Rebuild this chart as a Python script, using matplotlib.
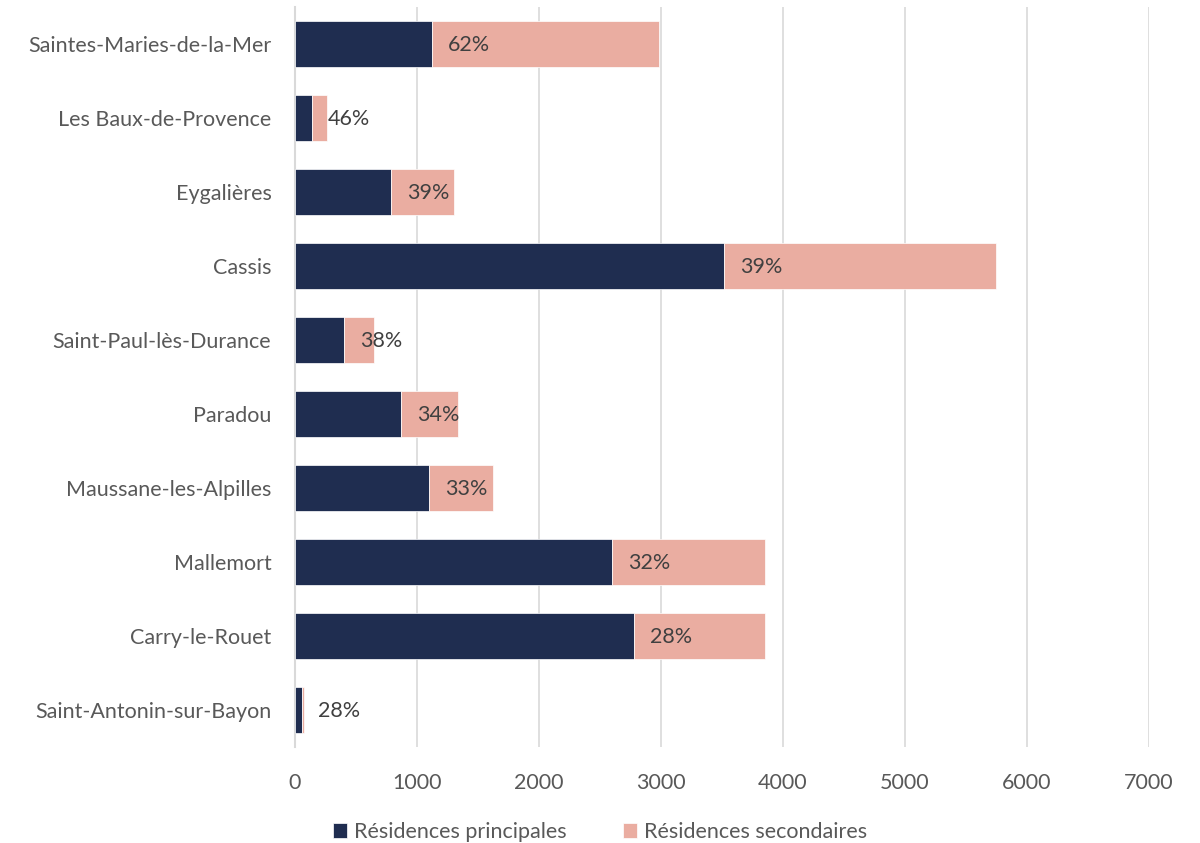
import numpy as np
import matplotlib.pyplot as plt

communes = ['Saintes-Maries-de-la-Mer', 'Les Baux-de-Provence', 'Eygalières', 'Cassis',
            'Saint-Paul-lès-Durance', 'Paradou', 'Maussane-les-Alpilles', 'Mallemort',
            'Carry-le-Rouet', 'Saint-Antonin-sur-Bayon']
principales = [1123, 140, 786, 3517, 403, 871, 1101, 2597, 2777, 55]
secondaires = [1860, 120, 521, 2229, 246, 468, 526, 1257, 1077, 21]
pct_labels = ['62%', '46%', '39%', '39%', '38%', '34%', '33%', '32%', '28%', '28%']
xticks = [0, 1000, 2000, 3000, 4000, 5000, 6000, 7000]

navy = '#1F2D50'
salmon = '#EAADA1'
grey_txt = '#595959'

plt.rcParams['font.family'] = ['Lato', 'DejaVu Sans']

fig = plt.figure(figsize=(12, 8.43), dpi=100)
ax = fig.add_axes([295/1200, 1 - 747/843, (1149 - 295)/1200, 740/843])

y = np.arange(len(communes))
ax.barh(y, principales, height=0.62, color=navy, edgecolor='white', linewidth=0.5,
        label='Résidences principales', zorder=3)
ax.barh(y, secondaires, left=principales, height=0.62, color=salmon, edgecolor='white',
        linewidth=0.5, label='Résidences secondaires', zorder=3)

# pourcentage de résidences secondaires, posé au début du segment rose
for yi, p, lab in zip(y, principales, pct_labels):
    ax.annotate(lab, (p, yi), xytext=(11.5, -1), textcoords='offset points',
                ha='left', va='center', fontsize=15.5, color='#404040', zorder=4)

ax.set_xlim(0, 7000)
ax.set_ylim(len(communes) - 0.5, -0.5)
ax.set_xticks(xticks)
ax.set_xticklabels([str(t) for t in xticks])
ax.set_yticks(y)
ax.set_yticklabels(communes)
ax.tick_params(axis='both', length=0, labelsize=15.5, colors=grey_txt)
ax.tick_params(axis='x', pad=19)
ax.tick_params(axis='y', pad=17)

ax.grid(axis='x', color='#D9D9D9', linewidth=1.2, zorder=0)
for s in ['top', 'right', 'bottom']:
    ax.spines[s].set_visible(False)
ax.spines['left'].set_color('#D9D9D9')
ax.spines['left'].set_linewidth(1.5)

fig.legend(loc='center', bbox_to_anchor=(0.5, 1 - 832/843), ncol=2, frameon=False,
           fontsize=15.5, labelcolor=grey_txt, handlelength=0.65, handleheight=0.65,
           handletextpad=0.35, columnspacing=2.6)

fig.savefig('out.png', dpi=100)
